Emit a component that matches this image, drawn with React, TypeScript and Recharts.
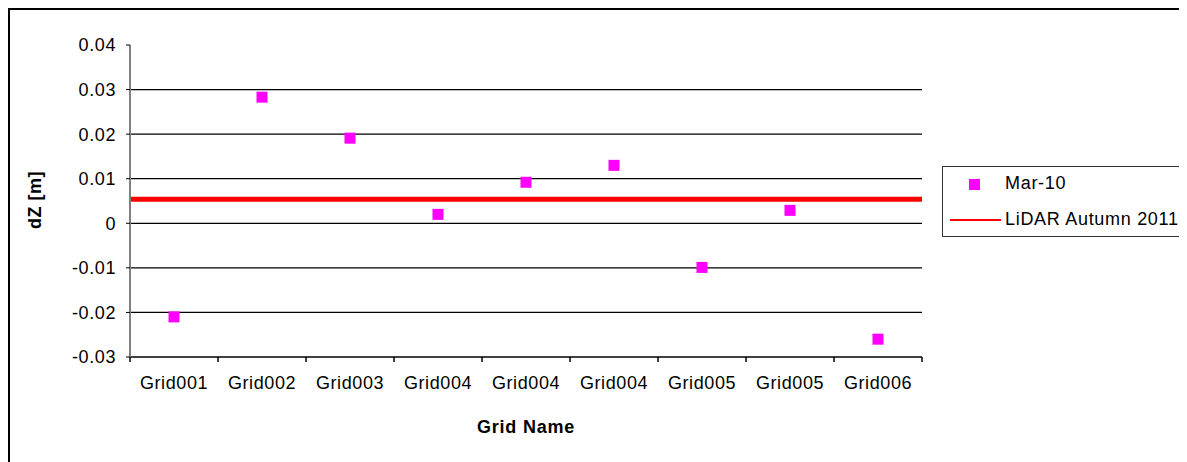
import { ScatterChart, Scatter, XAxis, YAxis, ReferenceLine } from 'recharts';

const categories = ['Grid001', 'Grid002', 'Grid003', 'Grid004', 'Grid004', 'Grid004', 'Grid005', 'Grid005', 'Grid006'];
const mar10 = [-0.021, 0.0283, 0.0191, 0.002, 0.0092, 0.013, -0.0099, 0.0029, -0.026];
const lidarAutumn2011 = 0.0054;
const yTicks = [-0.03, -0.02, -0.01, 0, 0.01, 0.02, 0.03, 0.04];
const gridValues = [-0.02, -0.01, 0, 0.01, 0.02, 0.03];

const FONT = '"Liberation Sans", Arial, sans-serif';
const MAGENTA = '#FF00FF';

const points = mar10.map((y, i) => ({ x: i + 0.5, y, name: categories[i] }));
const xTicks: number[] = [];
categories.forEach((_, i) => {
  xTicks.push(i, i + 0.5);
});
xTicks.push(categories.length);

const XTick = (props: any) => {
  const { x, y, payload } = props;
  const v = payload.value as number;
  if (Number.isInteger(v)) {
    return <line x1={x} y1={y} x2={x} y2={y + 5} stroke="#000" strokeWidth={1.5} />;
  }
  return (
    <text x={x} y={y + 32} textAnchor="middle" fontFamily={FONT} fontSize={18} letterSpacing={0.6} fill="#000">
      {categories[Math.floor(v)]}
    </text>
  );
};

const SquareDot = (props: any) => {
  const { cx, cy } = props;
  return <rect x={cx - 5.5} y={cy - 5.5} width={11} height={11} fill={MAGENTA} />;
};

export default function App() {
  return (
    <div
      style={{
        position: 'relative',
        width: 1179,
        height: 454,
        borderTop: '2px solid #000',
        borderLeft: '2px solid #000',
        fontFamily: FONT,
      }}
    >
      <ScatterChart width={1177} height={452} margin={{ top: 35, right: 265, bottom: 65, left: 60 }}>
        <XAxis
          type="number"
          dataKey="x"
          domain={[0, categories.length]}
          ticks={xTicks}
          interval={0}
          height={40}
          tickSize={0}
          tickMargin={0}
          tick={<XTick />}
          axisLine={{ stroke: '#000', strokeWidth: 1.5 }}
        />
        <YAxis
          type="number"
          dataKey="y"
          domain={[-0.03, 0.04]}
          ticks={yTicks}
          interval={0}
          width={60}
          tickSize={4}
          tickMargin={10}
          tickFormatter={(v: number) => (v === 0 ? '0' : v.toFixed(2))}
          tick={{ fill: '#000', fontSize: 18, fontFamily: FONT, letterSpacing: 0.6 }}
          tickLine={{ stroke: '#000' }}
          axisLine={{ stroke: '#808080', strokeWidth: 2 }}
        />
        {gridValues.map((g) => (
          <ReferenceLine key={g} y={g} stroke="#000" strokeWidth={1.2} />
        ))}
        <ReferenceLine y={lidarAutumn2011} stroke="#FF0000" strokeWidth={5} />
        <Scatter data={points} fill={MAGENTA} shape={<SquareDot />} isAnimationActive={false} />
      </ScatterChart>

      <div
        style={{
          position: 'absolute',
          left: 5,
          top: 190,
          transform: 'translate(-50%, -50%) rotate(-90deg)',
          marginLeft: 20,
          fontWeight: 'bold',
          fontSize: 18,
          letterSpacing: 0.5,
          whiteSpace: 'nowrap',
        }}
      >
        dZ [m]
      </div>
      <div
        style={{
          position: 'absolute',
          left: 516,
          top: 417,
          transform: 'translate(-50%, -50%)',
          fontWeight: 'bold',
          fontSize: 18,
          letterSpacing: 0.8,
          whiteSpace: 'nowrap',
        }}
      >
        Grid Name
      </div>

      <div
        style={{
          position: 'absolute',
          left: 932,
          top: 156,
          width: 260,
          height: 71,
          border: '1px solid #333',
          boxSizing: 'border-box',
          fontSize: 18,
          letterSpacing: 0.7,
        }}
      >
        <div style={{ position: 'absolute', left: 26, top: 12, width: 11, height: 11, background: MAGENTA }} />
        <div style={{ position: 'absolute', left: 62, top: 6, whiteSpace: 'nowrap' }}>Mar-10</div>
        <div style={{ position: 'absolute', left: 7, top: 52, width: 51, height: 2, background: '#FF0000' }} />
        <div style={{ position: 'absolute', left: 62, top: 42, whiteSpace: 'nowrap' }}>LiDAR Autumn 2011</div>
      </div>
    </div>
  );
}
